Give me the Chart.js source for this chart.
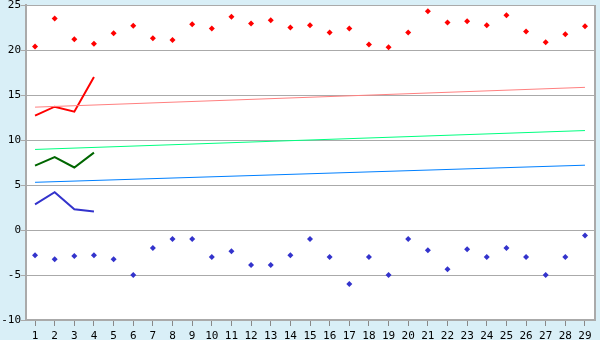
<!DOCTYPE html>
<html>
<head>
<meta charset="utf-8">
<script src="https://cdn.jsdelivr.net/npm/chart.js@4/dist/chart.umd.min.js"></script>
<style>
  html, body { margin: 0; padding: 0; background: #d9eff7; }
  #wrap { width: 600px; height: 340px; }
</style>
</head>
<body>
<div id="wrap"><canvas id="chart" width="600" height="340"></canvas></div>
<script>
const categories = [1,2,3,4,5,6,7,8,9,10,11,12,13,14,15,16,17,18,19,20,21,22,23,24,25,26,27,28,29];

// scatter markers
const highValues = [20.4, 23.5, 21.2, 20.7, 21.85, 22.7, 21.3, 21.1, 22.85, 22.4, 23.7, 22.95, 23.3, 22.5,
  22.75, 21.95, 22.4, 20.6, 20.3, 21.95, 24.3, 23.05, 23.2, 22.75, 23.85, 22.05, 20.85, 21.75, 22.65];
const lowValues = [-2.8, -3.25, -2.9, -2.8, -3.25, -5, -2, -1, -1, -3, -2.35, -3.9, -3.9, -2.8,
  -1, -3, -6, -3, -5, -1, -2.25, -4.35, -2.15, -3, -2, -3, -5, -3, -0.6];

// short lines (first four categories)
const redLine = [12.7, 13.7, 13.15, 17];
const greenLine = [7.15, 8.1, 6.95, 8.6];
const blueLine = [2.85, 4.2, 2.3, 2.05];

// trend lines, start and end
const trendX = [1, 29];
const redTrend = [13.65, 15.85];
const greenTrend = [8.95, 11.05];
const blueTrend = [5.3, 7.2];

const yTicks = [-10, -5, 0, 5, 10, 15, 20, 25];

const pts = (xs, ys) => ys.map((y, i) => ({ x: xs[i], y }));

const markerSet = (data, color) => ({
  data: pts(categories, data),
  showLine: false,
  pointStyle: "rectRot",
  pointRadius: 3,
  pointBorderWidth: 0,
  pointBackgroundColor: color,
  pointBorderColor: color
});

const lineSet = (xs, data, color, width) => ({
  data: pts(xs, data),
  showLine: true,
  borderColor: color,
  borderWidth: width,
  pointRadius: 0,
  tension: 0,
  fill: false
});

const frame = {
  id: "frame",
  beforeDraw(chart) {
    const { ctx, chartArea: a } = chart;
    ctx.save();
    ctx.fillStyle = "#d9eff7";
    ctx.fillRect(0, 0, chart.width, chart.height);
    ctx.fillStyle = "#ffffff";
    ctx.fillRect(a.left, a.top, a.right - a.left, a.bottom - a.top);
    ctx.restore();
  },
  afterDraw(chart) {
    const { ctx, chartArea: a } = chart;
    ctx.save();
    ctx.strokeStyle = "#aaaaaa";
    ctx.lineWidth = 2;
    ctx.beginPath();
    ctx.moveTo(a.right, a.top);
    ctx.lineTo(a.right, a.bottom);
    ctx.stroke();
    ctx.restore();
  }
};

const tickFont = { family: "DejaVu Sans Mono", size: 11 };

new Chart(document.getElementById("chart"), {
  type: "scatter",
  data: {
    datasets: [
      lineSet(trendX, redTrend, "#ff8080", 1),
      lineSet(trendX, greenTrend, "#00ff80", 1),
      lineSet(trendX, blueTrend, "#0080ff", 1),
      lineSet(categories.slice(0, 4), redLine, "#ff0000", 2),
      lineSet(categories.slice(0, 4), greenLine, "#006600", 2),
      lineSet(categories.slice(0, 4), blueLine, "#3333cc", 2),
      markerSet(highValues, "#ff0000"),
      markerSet(lowValues, "#3333cc")
    ]
  },
  options: {
    responsive: false,
    animation: false,
    layout: { padding: { top: 5, right: 5, left: 0, bottom: 0 } },
    plugins: { legend: { display: false }, tooltip: { enabled: false } },
    scales: {
      x: {
        type: "linear",
        min: 0.54,
        max: 29.51,
        afterBuildTicks: s => { s.ticks = categories.map(v => ({ value: v })); },
        afterFit: s => { s.height = 20; s.paddingLeft = 0; s.paddingRight = 0; },
        grid: { drawOnChartArea: false, color: "#888888", tickLength: 6 },
        border: { color: "#aaaaaa", width: 2 },
        ticks: { font: tickFont, color: "#000000", padding: 4, maxRotation: 0, autoSkip: false }
      },
      y: {
        min: -10,
        max: 25,
        afterBuildTicks: s => { s.ticks = yTicks.map(v => ({ value: v })); },
        afterFit: s => { s.width = 26; s.paddingTop = 0; s.paddingBottom = 0; },
        grid: { color: "#aaaaaa", tickLength: 5 },
        border: { color: "#aaaaaa", width: 2 },
        ticks: { font: tickFont, color: "#000000", padding: 0 }
      }
    }
  },
  plugins: [frame]
});
</script>
</body>
</html>
